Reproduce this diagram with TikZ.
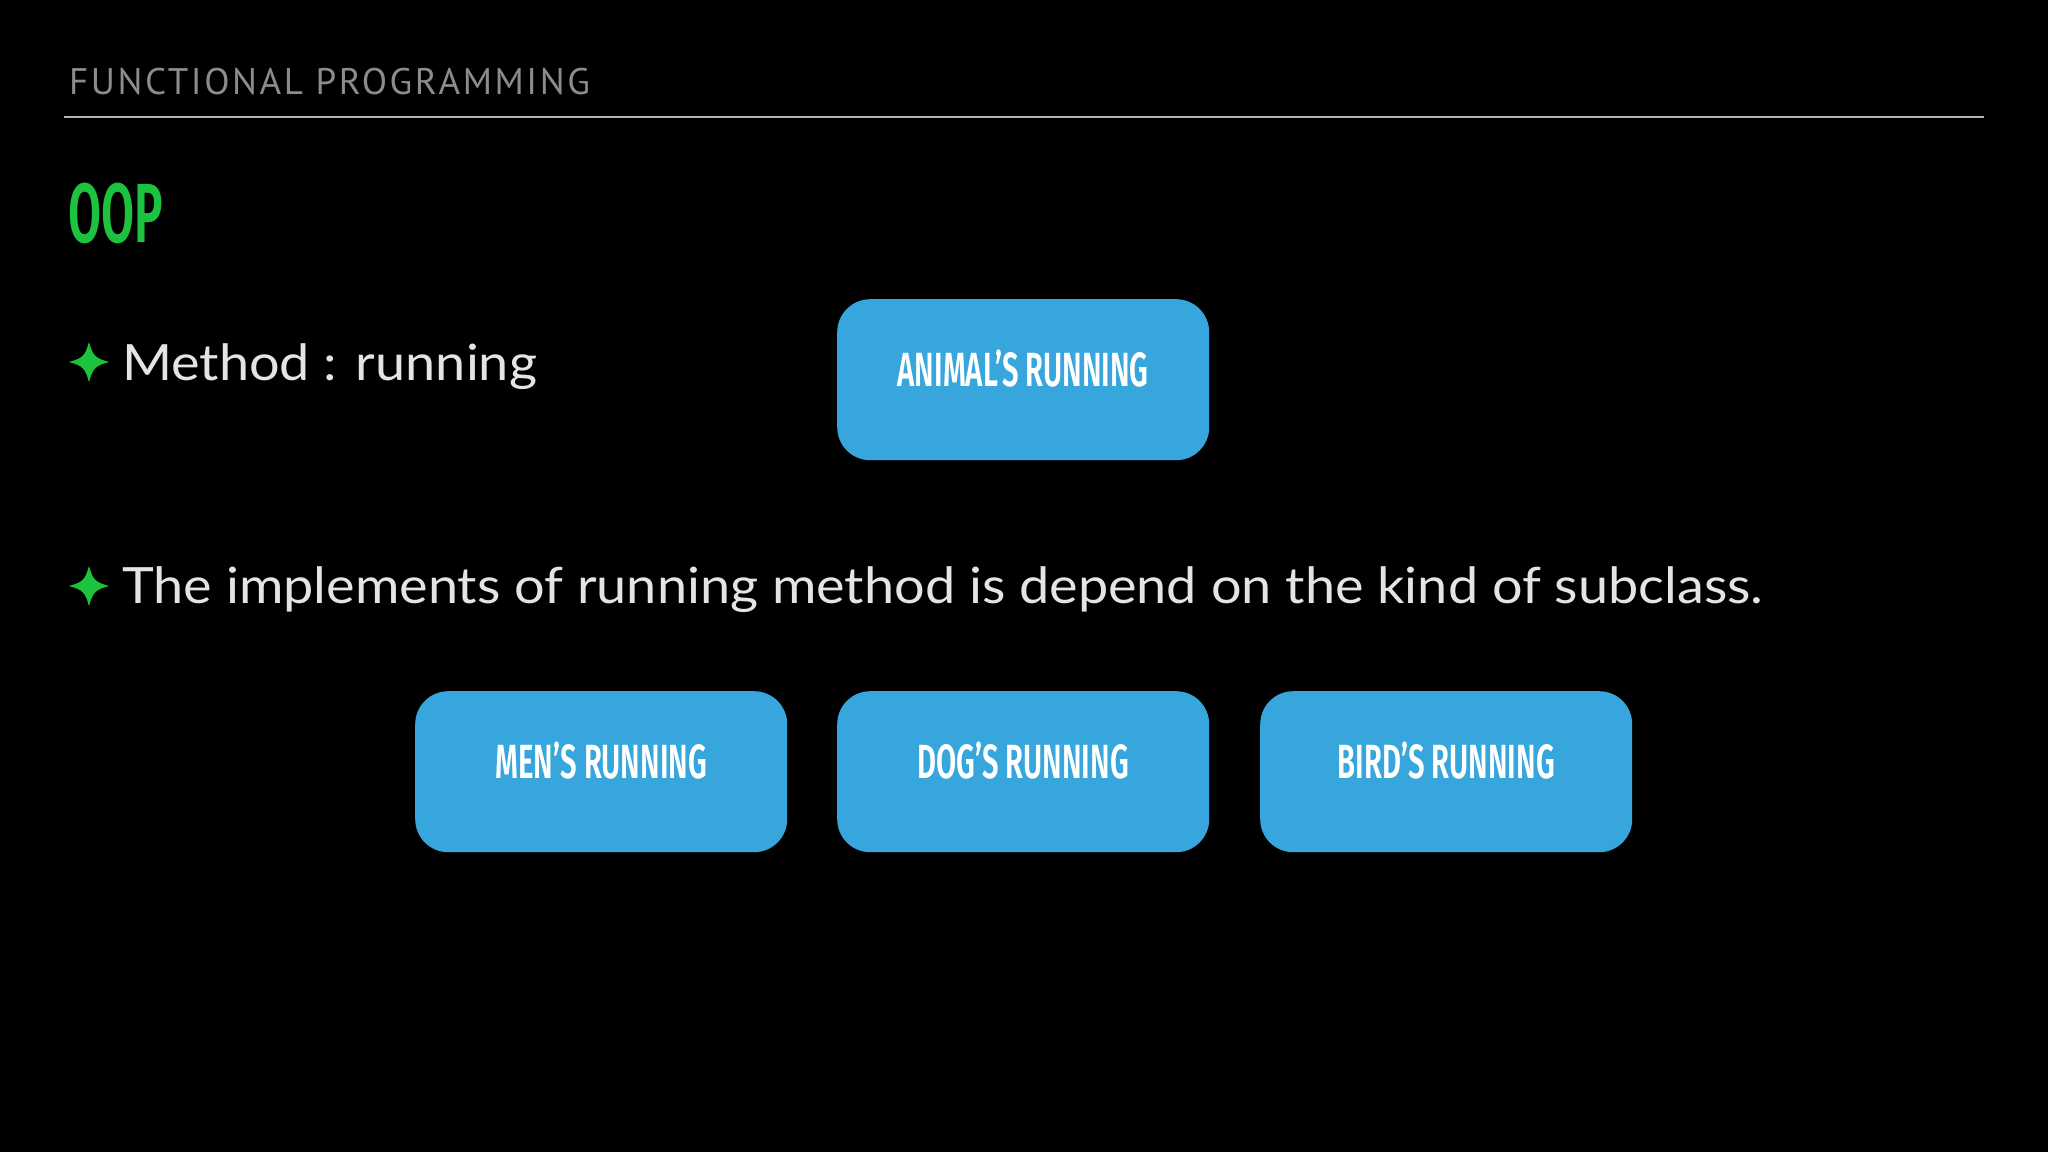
\documentclass[tikz,border=0pt]{standalone}
\usepackage{fontspec}
\setmainfont[FakeStretch=1.08]{Lato}
\newfontfamily\hdrfont[LetterSpace=7]{PT Sans}
\newfontfamily\condfont[FakeStretch=0.61]{Fira Sans SemiBold}
\newfontfamily\oopfont[FakeStretch=0.57]{Fira Sans SemiBold}
\definecolor{bg}{HTML}{000000}
\definecolor{hdrgray}{HTML}{8C8C8C}
\definecolor{rulegray}{HTML}{B4B4B4}
\definecolor{oopgreen}{HTML}{1DC23F}
\definecolor{bodytxt}{HTML}{E4E4E4}
\definecolor{boxblue}{HTML}{36A6DC}
\tikzset{
  x=1pt, y=-1pt,
  hdr/.style={anchor=base west, inner sep=0, text=hdrgray, font=\hdrfont\fontsize{37}{37}\selectfont},
  ooptitle/.style={anchor=base west, inner sep=0, text=oopgreen, font=\oopfont\fontsize{84}{84}\selectfont},
  bodytext/.style={anchor=base west, inner sep=0, text=bodytxt, font=\fontsize{50}{50}\selectfont},
  runbox/.style={fill=boxblue, rounded corners=33pt, minimum width=372pt, minimum height=161pt, inner sep=0, anchor=north west},
  boxlabel/.style={text=white, inner sep=0, font=\condfont\fontsize{48}{48}\selectfont},
  starbullet/.style={fill=oopgreen, draw=none}
}
\newcommand{\fourstar}[2]{%
  \fill[starbullet] (#1,#2-20) .. controls (#1+4,#2-6) and (#1+6,#2-4) .. (#1+20,#2)
    .. controls (#1+6,#2+4) and (#1+4,#2+6) .. (#1,#2+20)
    .. controls (#1-4,#2+6) and (#1-6,#2+4) .. (#1-20,#2)
    .. controls (#1-6,#2-4) and (#1-4,#2-6) .. cycle;}
\begin{document}
\begin{tikzpicture}
\fill[bg] (0,0) rectangle (2048,1152);
\useasboundingbox (0,0) rectangle (2048,1152);
% header
\node[hdr] (header) at (69,94) {FUNCTIONAL PROGRAMMING};
\coordinate (ruleL) at (64,117);
\coordinate (ruleR) at (1984,117);
\draw[rulegray, line width=2.2pt] (ruleL) -- (ruleR);
% title
\node[ooptitle] (oop) at (68,242) {OOP};
% bullets
\fourstar{89}{362}
\node[bodytext] (b1) at (122,380) {Method : running};
\fourstar{89}{586}
\node[bodytext] (b2) at (122,603) {The implements of running method is depend on the kind of subclass.};
% boxes
\node[runbox] (animal) at (837,299) {};
\node[boxlabel] (animalt) at ([yshift=11pt]animal.center) {ANIMAL’S RUNNING};
\node[runbox] (men) at (415,691) {};
\node[boxlabel] (ment) at ([yshift=11pt]men.center) {MEN’S RUNNING};
\node[runbox] (dog) at (837,691) {};
\node[boxlabel] (dogt) at ([yshift=11pt]dog.center) {DOG’S RUNNING};
\node[runbox] (bird) at (1260,691) {};
\node[boxlabel] (birdt) at ([yshift=11pt]bird.center) {BIRD’S RUNNING};
\end{tikzpicture}
\end{document}
